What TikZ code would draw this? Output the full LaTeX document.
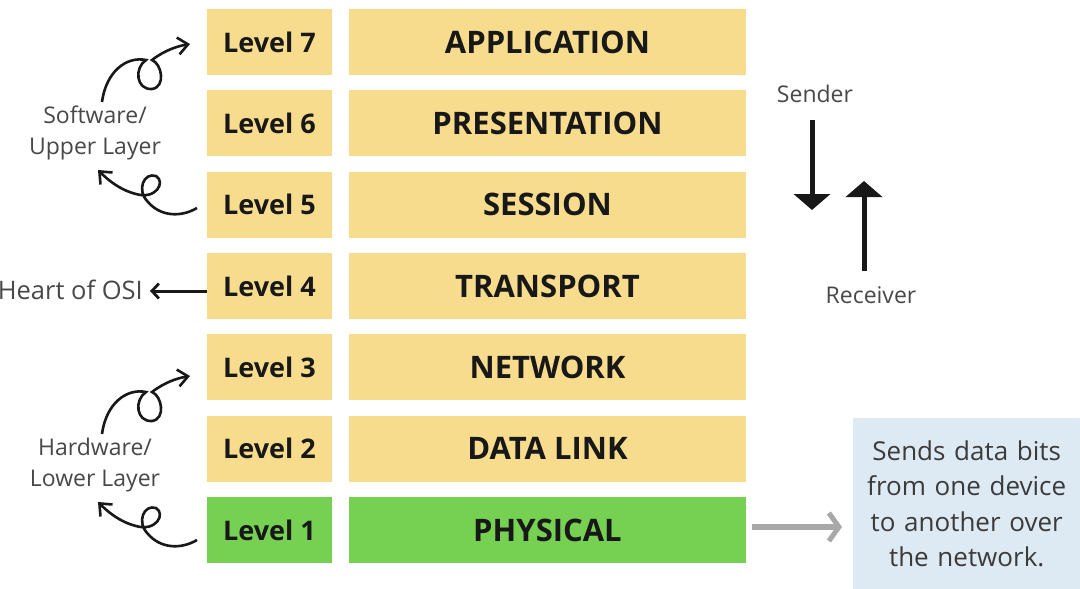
\documentclass[tikz,border=0pt]{standalone}
\usepackage{fontspec}
\setmainfont{Open Sans}
\usetikzlibrary{arrows.meta}
\definecolor{layeryellow}{RGB}{246,220,140}
\definecolor{layergreen}{RGB}{118,208,82}
\definecolor{noteblue}{RGB}{222,234,243}
\definecolor{linkgray}{RGB}{168,168,168}
\definecolor{inkdark}{RGB}{24,24,24}
\definecolor{sidegray}{RGB}{72,72,72}
\tikzset{
  levelbox/.style={fill=layeryellow, minimum width=125pt, minimum height=66pt, inner sep=0pt,
    font=\fontsize{27}{30}\selectfont\bfseries, text=inkdark},
  namebox/.style={fill=layeryellow, minimum width=397pt, minimum height=66pt, inner sep=0pt,
    font=\fontsize{31}{34}\selectfont\bfseries, text=inkdark},
  sidetext/.style={font=\fontsize{23}{31}\selectfont, text=sidegray, align=center, inner sep=0pt},
  curly/.style={line width=2.6pt, inkdark, -{Straight Barb[length=10pt,width=17pt,line width=2.6pt]}},
  bigarrow/.style={line width=5pt, inkdark, -{Triangle[length=16pt,width=36pt]}}
}
\begin{document}
\begin{tikzpicture}[x=1pt,y=-1pt]
\useasboundingbox (0,0) rectangle (1080,589);
\fill[white] (0,0) rectangle (1080,589);

% seven layers, top to bottom
\foreach \lv/\nm [count=\i from 0] in {7/APPLICATION,6/PRESENTATION,5/SESSION,4/TRANSPORT,3/NETWORK,2/DATA LINK}{
  \node[levelbox] (lv\lv) at (269.5, 42+\i*81.33) {Level \lv};
  \node[namebox]  (nm\lv) at (547.5, 42+\i*81.33) {\nm};
}
\node[levelbox, fill=layergreen] (lv1) at (269.5, 530) {Level 1};
\node[namebox,  fill=layergreen] (nm1) at (547.5, 530) {PHYSICAL};

% note on the physical layer
\node[fill=noteblue, minimum width=227pt, minimum height=171pt, inner sep=0pt,
      anchor=north west, text width=225pt, align=center,
      font=\fontsize{26}{35.5}\selectfont, text=inkdark!85] (note) at (853,418)
      {Sends data bits\\from one device\\to another over\\the network.};
\coordinate (linkS) at (752,527);
\coordinate (linkE) at (842,527);
\draw[line width=6pt, linkgray, -{Straight Barb[length=10pt,width=28pt,line width=5pt]}]
  (linkS) -- (linkE);

% heart of OSI (runs off the left edge)
\node[sidetext, font=\fontsize{25.5}{31}\selectfont, anchor=east] (heart) at (143,290) {Heart of OSI};
\coordinate (heartTip) at (150,291);
\draw[line width=3pt, inkdark, -{Straight Barb[length=7pt,width=15pt,line width=2.8pt]}]
  (lv4.west |- heartTip) -- (heartTip);

% direction of data flow
\node[sidetext] (sender) at (815,94) {Sender};
\node[sidetext] (receiver) at (871,295) {Receiver};
\coordinate (dnA) at (812,120);
\coordinate (dnB) at (812,210);
\coordinate (upA) at (864,271);
\coordinate (upB) at (864,181);
\draw[bigarrow] (dnA) -- (dnB);
\draw[bigarrow] (upA) -- (upB);

% upper and lower layer groups with curly arrows
\foreach \dy/\txt in {0/{Software/\\Upper Layer}, 332/{Hardware/\\Lower Layer}}{
  \begin{scope}[yshift=-\dy pt]
    \node[sidetext] (grp) at (95,133) {\txt};
    % curl up to the top layer of the group
    \draw[curly] (102,102) .. controls (106,72) and (126,56) .. (146,60)
      .. controls (134,68) and (136,90) .. (152,89)
      .. controls (166,87) and (162,64) .. (152,60)
      .. controls (165,50) and (178,46) .. (190,44);
    % curl down from the bottom layer of the group
    \draw[curly] (197,208) .. controls (180,218) and (160,216) .. (148,202)
      .. controls (136,190) and (144,172) .. (156,176)
      .. controls (166,182) and (156,200) .. (136,194)
      .. controls (120,190) and (108,180) .. (98,170);
  \end{scope}
}
\end{tikzpicture}
\end{document}
